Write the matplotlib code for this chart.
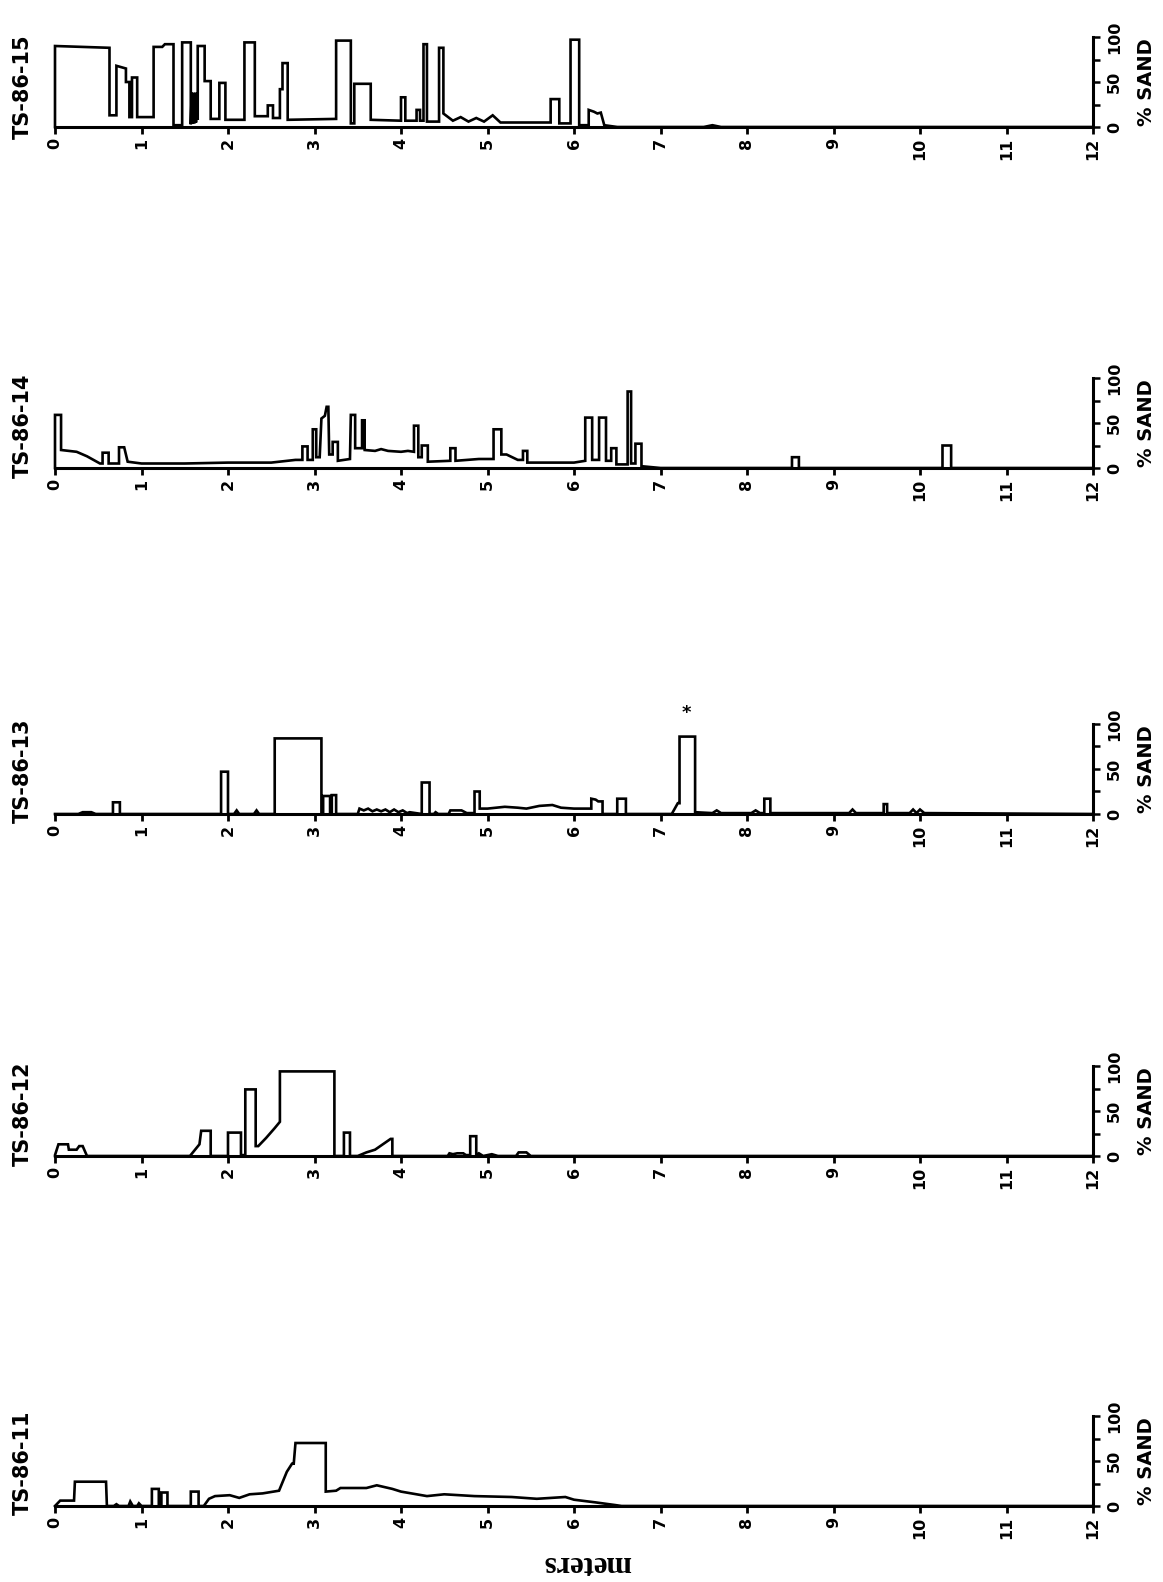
import matplotlib
matplotlib.use("Agg")
import matplotlib.pyplot as plt

# core names, top to bottom
cores = ["TS-86-15", "TS-86-14", "TS-86-13", "TS-86-12", "TS-86-11"]

# depth (m) / percent sand profiles
depth15 = [0, 0, 0.63, 0.63, 0.71, 0.71, 0.82, 0.82, 0.86, 0.86, 0.89, 0.89, 0.95, 0.95,
           1.14, 1.14, 1.24, 1.27, 1.37, 1.37, 1.47, 1.47, 1.57, 1.57, 1.58, 1.59, 1.60,
           1.61, 1.62, 1.63, 1.64, 1.65, 1.65, 1.73, 1.73, 1.80, 1.80, 1.90, 1.90, 1.97,
           1.97, 2.19, 2.19, 2.31, 2.31, 2.46, 2.46, 2.52, 2.52, 2.60, 2.60, 2.63, 2.63,
           2.69, 2.69, 3.25, 3.25, 3.42, 3.42, 3.46, 3.46, 3.65, 3.65, 4.00, 4.00, 4.05,
           4.05, 4.18, 4.18, 4.22, 4.22, 4.26, 4.26, 4.30, 4.30, 4.44, 4.44, 4.49, 4.49,
           4.60, 4.69, 4.78, 4.87, 4.96, 5.06, 5.15, 5.73, 5.73, 5.83, 5.83, 5.96, 5.96,
           6.06, 6.06, 6.17, 6.17, 6.23, 6.27, 6.31, 6.35, 6.50, 7.50, 7.60, 7.70, 12]
sand15 = [0, 90, 88, 13, 13, 68, 65, 50, 50, 11, 11, 55, 55, 11,
          11, 89, 89, 92, 92, 2, 2, 94, 94, 3, 38, 4, 38,
          4, 38, 5, 38, 8, 90, 90, 51, 51, 9, 9, 49, 49,
          8, 8, 94, 94, 12, 12, 24, 24, 10, 10, 42, 42, 71,
          71, 8, 9, 96, 96, 4, 4, 48, 48, 8, 7, 33, 33,
          7, 7, 19, 19, 7, 7, 92, 92, 6, 6, 88, 88, 15,
          7, 11, 6, 10, 6, 13, 5, 5, 31, 31, 4, 4, 97,
          97, 2, 2, 19, 17, 15, 16, 2, 0, 0, 2, 0, 0]

depth14 = [0, 0, 0.07, 0.07, 0.25, 0.37, 0.52, 0.55, 0.55, 0.62, 0.62, 0.74, 0.74, 0.80,
           0.84, 1.0, 1.5, 2.0, 2.5, 2.78, 2.86, 2.86, 2.92, 2.92, 2.98, 2.98, 3.02, 3.02,
           3.06, 3.08, 3.12, 3.14, 3.16, 3.17, 3.21, 3.21, 3.27, 3.27, 3.41, 3.42, 3.47,
           3.47, 3.55, 3.55, 3.58, 3.58, 3.70, 3.77, 3.85, 4.0, 4.08, 4.15, 4.15, 4.20,
           4.20, 4.24, 4.24, 4.31, 4.31, 4.57, 4.57, 4.63, 4.63, 4.90, 5.07, 5.07, 5.16,
           5.16, 5.22, 5.35, 5.41, 5.41, 5.46, 5.46, 6.0, 6.13, 6.13, 6.21, 6.21, 6.29,
           6.29, 6.37, 6.37, 6.43, 6.43, 6.49, 6.49, 6.62, 6.62, 6.66, 6.66, 6.71, 6.71,
           6.78, 6.78, 7.0, 8.52, 8.52, 8.60, 8.60, 10.26, 10.26, 10.36, 10.36, 12]
sand14 = [0, 59, 59, 20, 18, 13, 5, 5, 17, 17, 5, 5, 23, 23,
          7, 5, 5, 6, 6, 9, 9, 24, 24, 9, 9, 43, 43, 12,
          12, 55, 58, 68, 68, 15, 15, 29, 29, 8, 10, 59, 59,
          22, 22, 53, 53, 20, 19, 21, 19, 18, 19, 18, 47, 47,
          12, 12, 25, 25, 7, 8, 22, 22, 8, 10, 10, 43, 43,
          15, 15, 9, 9, 19, 19, 6, 6, 8, 56, 56, 9, 9,
          56, 56, 8, 8, 22, 22, 4, 4, 85, 85, 5, 5, 27,
          27, 2, 0, 0, 12, 12, 0, 0, 25, 25, 0, 0]

depth13 = [0, 0.27, 0.32, 0.42, 0.47, 0.67, 0.67, 0.75, 0.75, 1.92, 1.92, 2.0, 2.0, 2.07,
           2.10, 2.13, 2.30, 2.33, 2.36, 2.54, 2.54, 3.08, 3.08, 3.10, 3.10, 3.18, 3.18,
           3.20, 3.20, 3.25, 3.25, 3.50, 3.52, 3.57, 3.62, 3.67, 3.72, 3.77, 3.82, 3.87,
           3.92, 3.97, 4.02, 4.07, 4.10, 4.24, 4.24, 4.33, 4.33, 4.38, 4.40, 4.43, 4.55,
           4.57, 4.70, 4.76, 4.85, 4.85, 4.91, 4.91, 5.0, 5.2, 5.35, 5.45, 5.6, 5.75,
           5.85, 6.0, 6.2, 6.2, 6.25, 6.28, 6.33, 6.33, 6.5, 6.5, 6.6, 6.6, 7.13, 7.2,
           7.22, 7.22, 7.4, 7.4, 7.6, 7.65, 7.7, 8.05, 8.1, 8.15, 8.2, 8.2, 8.27, 8.27,
           9.18, 9.22, 9.26, 9.58, 9.58, 9.62, 9.62, 9.88, 9.92, 9.96, 10.0, 10.05, 12]
sand13 = [0, 0, 2, 2, 0, 0, 13, 13, 0, 0, 47, 47, 0, 0,
          4, 0, 0, 4, 0, 0, 84, 84, 0, 0, 20, 20, 0,
          0, 21, 21, 0, 0, 6, 4, 6, 3, 5, 3, 5, 2,
          5, 2, 4, 1, 2, 0, 35, 35, 0, 0, 2, 0, 0,
          4, 4, 1, 1, 25, 25, 6, 6, 8, 7, 6, 9, 10,
          7, 6, 6, 17, 16, 14, 14, 0, 0, 17, 17, 0, 0, 12,
          12, 86, 86, 2, 1, 4, 1, 1, 4, 1, 1, 17, 17, 1,
          1, 5, 1, 1, 11, 11, 1, 1, 5, 1, 5, 1, 0]

depth12 = [0, 0, 0.04, 0.15, 0.16, 0.25, 0.28, 0.32, 0.37, 1.56, 1.67, 1.69, 1.80, 1.80,
           2.0, 2.0, 2.15, 2.15, 2.20, 2.20, 2.32, 2.32, 2.35, 2.44, 2.54, 2.60, 2.60,
           3.23, 3.23, 3.34, 3.34, 3.41, 3.41, 3.50, 3.60, 3.70, 3.88, 3.90, 3.90, 4.54,
           4.56, 4.60, 4.65, 4.72, 4.75, 4.80, 4.80, 4.87, 4.87, 4.90, 4.95, 5.05, 5.12,
           5.33, 5.36, 5.45, 5.50, 12]
sand12 = [0, 1, 13, 13, 7, 7, 11, 11, 0, 0, 13, 28, 28, 0,
          0, 26, 26, 1, 1, 74, 74, 11, 11, 20, 31, 38, 94,
          94, 0, 0, 26, 26, 0, 0, 4, 7, 19, 19, 0, 0,
          3, 2, 3, 3, 1, 1, 22, 22, 1, 3, 0, 2, 0,
          0, 4, 4, 0, 0]

depth11 = [0, 0.04, 0.06, 0.22, 0.23, 0.59, 0.60, 0.68, 0.71, 0.74, 0.85, 0.87, 0.90, 0.95,
           0.97, 1.0, 1.12, 1.12, 1.20, 1.20, 1.23, 1.23, 1.30, 1.30, 1.57, 1.57, 1.66,
           1.66, 1.72, 1.78, 1.85, 2.02, 2.13, 2.25, 2.40, 2.59, 2.68, 2.74, 2.76, 2.78,
           3.13, 3.13, 3.25, 3.30, 3.60, 3.72, 3.90, 4.0, 4.3, 4.5, 4.85, 5.28, 5.57, 5.9,
           6.0, 6.25, 6.48, 6.55, 12]
sand11 = [0, 4, 6, 6, 27, 27, 0, 0, 2, 0, 0, 5, 0, 0,
          3, 0, 0, 19, 19, 0, 0, 15, 15, 0, 0, 16, 16,
          0, 0, 8, 11, 12, 9, 13, 14, 17, 38, 47, 47, 70,
          70, 16, 17, 20, 20, 23, 19, 16, 11, 13, 11, 10, 8, 10,
          7, 4, 1, 0, 0]

depths = [depth15, depth14, depth13, depth12, depth11]
sands = [sand15, sand14, sand13, sand12, sand11]

W, H = 1163, 1582
fig = plt.figure(figsize=(W / 100, H / 100), dpi=100)

baselines = [127, 468, 814, 1156, 1506]   # px from top, zero line of each strip
title_y = [87, 426, 771, 1114, 1463]
x0, x1 = 55, 1093
hgt = 90

for i, (name, d, s, base, ty) in enumerate(zip(cores, depths, sands, baselines, title_y)):
    ax = fig.add_axes([x0 / W, 1 - base / H, (x1 - x0) / W, hgt / H])
    ax.plot(d, s, color="black", lw=1.9, clip_on=False, solid_joinstyle="miter")
    ax.set_xlim(0, 12)
    ax.set_ylim(0, 100)
    ax.patch.set_visible(False)
    ax.spines["top"].set_visible(False)
    ax.spines["left"].set_visible(False)
    ax.spines["bottom"].set_linewidth(2.2)
    ax.spines["right"].set_linewidth(2.2)

    ax.set_xticks(range(13))
    ax.set_xticklabels([str(k) for k in range(13)], rotation=90,
                       fontsize=11.5, fontweight="bold")
    ax.tick_params(axis="x", direction="out", length=5, width=2, pad=3)

    ax.yaxis.tick_right()
    ax.set_yticks([0, 25, 50, 75, 100])
    ax.set_yticklabels(["0", "", "50", "", "100"], rotation=90, va="center",
                       fontsize=11.5, fontweight="bold")
    ax.tick_params(axis="y", direction="out", length=5, width=1.8, pad=5)

    ax.text(1.052, 0.5, "% SAND", transform=ax.transAxes, rotation=90,
            ha="center", va="center", fontsize=14, fontweight="bold")
    fig.text(23 / W, 1 - ty / H, name, rotation=90, ha="center", va="center",
             fontsize=15, fontweight="bold")

    if name == "TS-86-13":
        # small hand mark above the 7.3 m sand bed
        ax.text(7.3, 112, "*", ha="center", va="center", fontsize=13,
                fontweight="bold", clip_on=False)

fig.text(587 / W, 1 - 1563 / H, "meters", rotation=180, ha="center", va="center",
         fontsize=22, fontweight="bold", family="Liberation Serif")

fig.savefig("out.png", dpi=100)
